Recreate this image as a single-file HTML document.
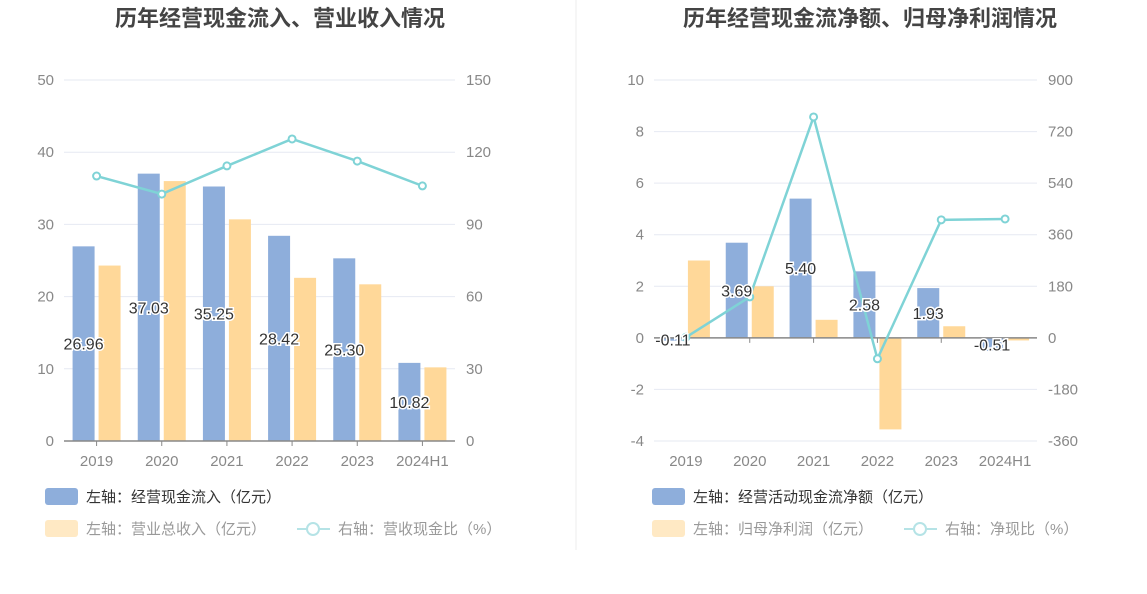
<!DOCTYPE html>
<html><head><meta charset="utf-8">
<style>
body{margin:0;background:#fff;width:1147px;height:589px;overflow:hidden;font-family:"Liberation Sans","Noto Sans CJK SC",sans-serif;}
svg text{font-family:"Liberation Sans","Noto Sans CJK SC",sans-serif;}
</style></head>
<body>
<svg id="c" width="1147" height="589" xmlns="http://www.w3.org/2000/svg">
<line x1="576" y1="0" x2="576" y2="550" stroke="#eee"/>
<text x="280" y="26" font-size="22" font-weight="bold" fill="#444" text-anchor="middle">历年经营现金流入、营业收入情况</text>
<text x="870" y="26" font-size="22" font-weight="bold" fill="#444" text-anchor="middle">历年经营现金流净额、归母净利润情况</text>
<g id="L"></g><g id="R"></g>
<g>
<rect x="45" y="488" width="33" height="17" rx="3" fill="#8eaedb"/>
<text x="86" y="502" font-size="15" fill="#333">左轴：经营现金流入（亿元）</text>
<rect x="45" y="520" width="33" height="17" rx="3" fill="#ffe9c4"/>
<text x="86" y="534" font-size="15" fill="#999">左轴：营业总收入（亿元）</text>
<line x1="297" y1="529" x2="330" y2="529" stroke="#b5e3e6" stroke-width="2"/>
<circle cx="313" cy="529" r="6" fill="#fff" stroke="#b5e3e6" stroke-width="2"/>
<text x="338" y="534" font-size="15" fill="#999">右轴：营收现金比（%）</text>
</g>
<g>
<rect x="652" y="488" width="33" height="17" rx="3" fill="#8eaedb"/>
<text x="693" y="502" font-size="15" fill="#333">左轴：经营活动现金流净额（亿元）</text>
<rect x="652" y="520" width="33" height="17" rx="3" fill="#ffe9c4"/>
<text x="693" y="534" font-size="15" fill="#999">左轴：归母净利润（亿元）</text>
<line x1="904" y1="529" x2="937" y2="529" stroke="#b5e3e6" stroke-width="2"/>
<circle cx="920" cy="529" r="6" fill="#fff" stroke="#b5e3e6" stroke-width="2"/>
<text x="945" y="534" font-size="15" fill="#999">右轴：净现比（%）</text>
</g>
</svg>
<script>
const categories=["2019","2020","2021","2022","2023","2024H1"];
const cashInflow=[26.96,37.03,35.25,28.42,25.30,10.82];
const revenue=[24.3,36.0,30.7,22.6,21.7,10.2];
const cashRatio=[110.1,102.6,114.3,125.5,116.3,106.0];
const leftTicks=[0,10,20,30,40,50];
const leftRightTicks=[0,30,60,90,120,150];
const netCash=[-0.11,3.69,5.40,2.58,1.93,-0.51];
const netProfit=[3.0,2.0,0.7,-3.55,0.45,-0.1];
const netRatio=[2,143,771,-73,412,415];
const rightTicks=[-4,-2,0,2,4,6,8,10];
const rightRightTicks=[-360,-180,0,180,360,540,720,900];
const NS="http://www.w3.org/2000/svg";
function mk(p,t,a){const e=document.createElementNS(NS,t);for(const k in a)e.setAttribute(k,a[k]);p.appendChild(e);return e;}
function chart(g,o){
 const n=categories.length,bw=(o.x1-o.x0)/n;
 const y=v=>o.yb+(v-o.min)/(o.max-o.min)*(o.yt-o.yb);
 const y2=v=>o.yb+(v-o.min2)/(o.max2-o.min2)*(o.yt-o.yb);
 const cx=i=>o.x0+bw*(i+0.5);
 o.ticks.forEach((t,i)=>{
  const ln=mk(g,'line',{x1:o.x0,x2:o.x1,y1:y(t),y2:y(t),stroke:'#e6e9f2'});
  
  
  const a=mk(g,'text',{x:o.x0-10,y:y(t)+5,'font-size':15,fill:'#888','text-anchor':'end'});a.textContent=t;
  
  
  const b=mk(g,'text',{x:o.x1+11,y:y(t)+5,'font-size':15,fill:'#888'});b.textContent=o.ticks2[i];
  
  
 });
 categories.forEach((c,i)=>{
  const t=mk(g,'text',{x:cx(i),y:o.yb+25,'font-size':15,fill:'#888','text-anchor':'middle'});t.textContent=c;
  
  
  const v1=o.s1[i],v2=o.s2[i];
  const r1=mk(g,'rect',{x:cx(i)-24,y:Math.min(y(0),y(v1)),width:22,height:Math.abs(y(v1)-y(0)),fill:'#8eaedb'});
  
  
  const r2=mk(g,'rect',{x:cx(i)+2,y:Math.min(y(0),y(v2)),width:22,height:Math.abs(y(v2)-y(0)),fill:'#ffd899'});
  
  
 });
 const ax=mk(g,'line',{x1:o.x0,x2:o.x1,y1:y(0),y2:y(0),stroke:'#888','stroke-width':1.5});
 
 
 categories.forEach((c,i)=>{const tk=mk(g,'line',{x1:cx(i),x2:cx(i),y1:y(0),y2:y(0)+5,stroke:'#888'});
  
  });
 const pts=o.s3.map((v,i)=>cx(i)+','+y2(v)).join(' ');
 const pl=mk(g,'polyline',{points:pts,fill:'none',stroke:'#7fd3d6','stroke-width':2.5});
 
 
 o.s3.forEach((v,i)=>{const p=mk(g,'circle',{cx:cx(i),cy:y2(v),r:3.5,fill:'#fff',stroke:'#7fd3d6','stroke-width':2});
  
  });
 o.s1.forEach((v,i)=>{const t=mk(g,'text',{x:cx(i)-13,y:(y(v)+y(0))/2+6,'font-size':16,fill:'#333','text-anchor':'middle',stroke:'#fff','stroke-width':3,'paint-order':'stroke'});
  t.textContent=v.toFixed(2);
  
  });
}
chart(document.getElementById('L'),{x0:64,x1:455,yt:80,yb:441,min:0,max:50,min2:0,max2:150,ticks:leftTicks,ticks2:leftRightTicks,s1:cashInflow,s2:revenue,s3:cashRatio});
chart(document.getElementById('R'),{x0:654,x1:1037,yt:80,yb:441,min:-4,max:10,min2:-360,max2:900,ticks:rightTicks,ticks2:rightRightTicks,s1:netCash,s2:netProfit,s3:netRatio});
</script>
</body></html>
